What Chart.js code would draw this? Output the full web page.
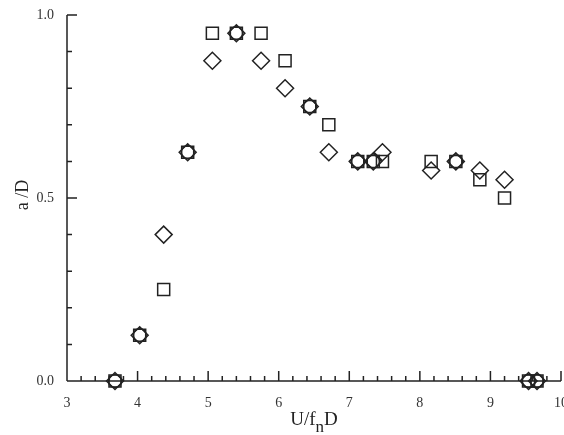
<!DOCTYPE html>
<html>
<head>
<meta charset="utf-8">
<script src="https://cdn.jsdelivr.net/npm/chart.js@4/dist/chart.umd.min.js"></script>
<style>
  html, body { margin: 0; padding: 0; background: #fff; }
  canvas { display: block; }
</style>
</head>
<body>
<canvas id="c" width="564" height="435"></canvas>
<script>
// ---- data ----
const squareX  = [3.68, 4.03, 4.37, 4.71, 5.06, 5.40, 5.75, 6.09, 6.44, 6.71, 7.12, 7.34, 7.47, 8.16, 8.51, 8.85, 9.20, 9.54, 9.66];
const squareY  = [0.00, 0.125, 0.25, 0.625, 0.95, 0.95, 0.95, 0.875, 0.75, 0.70, 0.60, 0.60, 0.60, 0.60, 0.60, 0.55, 0.50, 0.00, 0.00];
const diamondX = [3.68, 4.03, 4.37, 4.71, 5.06, 5.40, 5.75, 6.09, 6.44, 6.71, 7.12, 7.34, 7.47, 8.16, 8.51, 8.85, 9.20, 9.54, 9.66];
const diamondY = [0.00, 0.125, 0.40, 0.625, 0.875, 0.95, 0.875, 0.80, 0.75, 0.625, 0.60, 0.60, 0.625, 0.575, 0.60, 0.575, 0.55, 0.00, 0.00];
const circleX  = [3.68, 4.03, 4.71, 5.40, 6.44, 7.12, 7.34, 8.51, 9.54, 9.66];
const circleY  = [0.00, 0.125, 0.625, 0.95, 0.75, 0.60, 0.60, 0.60, 0.00, 0.00];
const xTickValues = [3, 4, 5, 6, 7, 8, 9, 10];
const yTickValues = [0.0, 0.5, 1.0];
const xTitleMain = "U/f";
const xTitleSub = "n";
const xTitleEnd = "D";
const yTitle = "a /D";

const pts = (xs, ys) => xs.map((x, i) => ({x, y: ys[i]}));
const INK = '#222';
const SERIF = '"Liberation Serif", "Times New Roman", serif';
const noPad = () => ({left: 0, top: 0, right: 0, bottom: 0});

// markers may overhang the plot frame (as in the reference); do not shrink the plot for them
Chart.ScatterController.prototype.getMaxOverflow = function () { return 0; };

const axisPlugin = {
  id: 'axisPlugin',
  afterDraw(chart) {
    const ctx = chart.ctx;
    const xs = chart.scales.x, ys = chart.scales.y;
    const x0 = xs.getPixelForValue(3), x1 = xs.getPixelForValue(10);
    const y0 = ys.getPixelForValue(0), y1 = ys.getPixelForValue(1);
    ctx.save();
    ctx.strokeStyle = INK;
    ctx.lineWidth = 1.5;
    ctx.lineCap = 'butt';
    ctx.beginPath();
    ctx.moveTo(x0, y1); ctx.lineTo(x0, y0);
    ctx.moveTo(x0, y0); ctx.lineTo(x1, y0);
    for (let i = 0; i <= 10; i++) {
      const py = ys.getPixelForValue(i / 10);
      const len = (i % 5 === 0) ? 10 : 5;
      ctx.moveTo(x0, py); ctx.lineTo(x0 + len, py);
    }
    for (let i = 0; i <= 35; i++) {
      const px = xs.getPixelForValue(3 + i * 0.2);
      const len = (i % 5 === 0) ? 10 : 5;
      ctx.moveTo(px, y0); ctx.lineTo(px, y0 - len);
    }
    ctx.stroke();

    ctx.fillStyle = INK;
    ctx.textBaseline = 'alphabetic';
    ctx.textAlign = 'left';
    const big = '19px ' + SERIF, small = '17px ' + SERIF;
    ctx.font = big; const w1 = ctx.measureText(xTitleMain).width;
    ctx.font = small; const w2 = ctx.measureText(xTitleSub).width;
    ctx.font = big; const w3 = ctx.measureText(xTitleEnd).width;
    let tx = 314 - (w1 + w2 + w3) / 2;
    const base = 425;
    ctx.font = big; ctx.fillText(xTitleMain, tx, base); tx += w1;
    ctx.font = small; ctx.fillText(xTitleSub, tx, base + 7); tx += w2;
    ctx.font = big; ctx.fillText(xTitleEnd, tx, base);

    ctx.save();
    ctx.translate(28, 195);
    ctx.rotate(-Math.PI / 2);
    ctx.textAlign = 'center';
    ctx.font = '18px ' + SERIF;
    ctx.fillText(yTitle, 0, 0);
    ctx.restore();
    ctx.restore();
  }
};

const common = {
  showLine: false,
  borderColor: INK,
  backgroundColor: 'rgba(0,0,0,0)',
  borderWidth: 1.5,
  clip: false
};

new Chart(document.getElementById('c'), {
  type: 'scatter',
  data: {
    datasets: [
      Object.assign({label: 'square', data: pts(squareX, squareY), pointStyle: 'rect', pointRadius: 8.5}, common),
      Object.assign({label: 'diamond', data: pts(diamondX, diamondY), pointStyle: 'rectRot', pointRadius: 8.5}, common),
      Object.assign({label: 'circle', data: pts(circleX, circleY), pointStyle: 'circle', pointRadius: 6.5, borderWidth: 2}, common)
    ]
  },
  options: {
    responsive: false,
    animation: false,
    events: [],
    layout: { padding: { top: 15, right: 3, left: 0, bottom: 0 } },
    plugins: { legend: { display: false }, tooltip: { enabled: false } },
    scales: {
      x: {
        type: 'linear', min: 3, max: 10,
        afterBuildTicks: s => { s.ticks = xTickValues.map(v => ({value: v})); },
        ticks: { font: { family: SERIF, size: 14 }, color: '#333', padding: 14, maxRotation: 0, autoSkip: false },
        grid: { display: false, drawTicks: false },
        border: { display: false },
        afterFit: s => { s.height = 54; s.paddingLeft = 0; s.paddingRight = 0; s.getPadding = noPad; }
      },
      y: {
        type: 'linear', min: 0, max: 1,
        afterBuildTicks: s => { s.ticks = yTickValues.map(v => ({value: v})); },
        ticks: { font: { family: SERIF, size: 14 }, color: '#333', padding: 13, callback: v => Number(v).toFixed(1) },
        grid: { display: false, drawTicks: false },
        border: { display: false },
        afterFit: s => { s.width = 67; s.paddingTop = 0; s.paddingBottom = 0; s.getPadding = noPad; }
      }
    }
  },
  plugins: [axisPlugin]
});
</script>
</body>
</html>
